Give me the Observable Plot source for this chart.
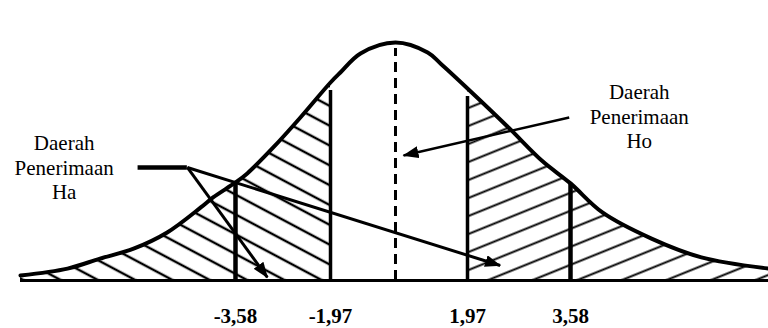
<!DOCTYPE html>
<html>
<head>
<meta charset="utf-8">
<script src="https://cdn.jsdelivr.net/npm/d3@7"></script>
<script src="https://cdn.jsdelivr.net/npm/@observablehq/plot@0.6"></script>
<style>
  html, body { margin: 0; padding: 0; background: #fff; }
  #chart { width: 768px; height: 328px; overflow: hidden; }
  #chart svg text { font-family: "Liberation Serif", "Times New Roman", serif; }
</style>
</head>
<body>
<div id="chart"></div>
<script>
// Bell curve (z value, relative height)
const curveX = [-5.5, -5.08, -4.79, -4.49, -4.19, -3.89, -3.78, -3.58, -3.38, -2.94, -2.48, -1.97, -1.67, -1.06, 0, 0.88, 1.23, 1.97, 2.61, 3.13, 3.58, 3.97, 4.57, 5.18, 6.0];
const curveY = [0.021, 0.050, 0.092, 0.134, 0.202, 0.307, 0.349, 0.412, 0.450, 0.559, 0.685, 0.832, 0.874, 0.954, 1.0, 0.958, 0.912, 0.807, 0.643, 0.504, 0.408, 0.286, 0.176, 0.097, 0.050];

// Critical values and their labels
const outerTicks = [-3.58, 3.58];
const innerTicks = [-1.97, 1.97];
const ticks = [-3.58, -1.97, 1.97, 3.58];
const tickLabels = ["-3,58", "-1,97", "1,97", "3,58"];

// Annotation texts and anchors
const labels = ["Daerah\nPenerimaan\nHa", "Daerah\nPenerimaan\nHo"];
const labelX = [-5.11, 4.42];
const labelY = [0.478, 0.692];

// Leader line for the Ha label
const leaderX = [-4.45, -4.01];
const leaderY = [0.475];

// Arrows
const arrowFromX = [-4.01, -4.01, 3.56];
const arrowFromY = [0.475, 0.475, 0.685];
const arrowToX = [-3.04, 2.48, 0.22];
const arrowToY = [0.013, 0.063, 0.525];
const arrowWidth = [3, 3, 2.5];

const serif = "'Liberation Serif', 'Times New Roman', serif";
const curve = curveX.map((x, i) => ({x, y: curveY[i]}));
const heightAt = (x) => curve.find((d) => d.x === x).y;

const svg = Plot.plot({
  width: 768,
  height: 328,
  marginLeft: 0,
  marginRight: 0,
  marginTop: 42,
  marginBottom: 48,
  x: {type: "linear", domain: [-5.5, -3.58, -1.97, 0, 1.97, 3.58, 6], range: [20, 235, 330, 395, 467, 570, 768], axis: null},
  y: {domain: [0, 1], axis: null},
  style: {fontFamily: serif, background: "white", color: "black", overflow: "visible"},
  marks: [
    Plot.areaY(curve.filter((d) => d.x <= -1.97), {x: "x", y: "y", fill: "url(#hatchL)", curve: "catmull-rom"}),
    Plot.areaY(curve.filter((d) => d.x >= 1.97), {x: "x", y: "y", fill: "url(#hatchR)", curve: "catmull-rom"}),
    Plot.ruleY([0], {x1: curveX[0], x2: curveX[curveX.length - 1], stroke: "black", strokeWidth: 3}),
    Plot.ruleX(outerTicks, {x: (d) => d, y1: 0, y2: (d) => heightAt(d), stroke: "black", strokeWidth: 4.5}),
    Plot.ruleX(innerTicks, {x: (d) => d, y1: 0, y2: (d) => heightAt(d), stroke: "black", strokeWidth: 3.5, insetBottom: -8}),
    Plot.ruleX([0], {x: (d) => d, y1: 0, y2: (d) => heightAt(d), stroke: "black", strokeWidth: 3, strokeDasharray: "10,6", insetBottom: -6}),
    Plot.line(curve, {x: "x", y: "y", stroke: "black", strokeWidth: 4, curve: "catmull-rom", strokeLinejoin: "round", strokeLinecap: "round"}),
    Plot.ruleY(leaderY, {y: (d) => d, x1: leaderX[0], x2: leaderX[1], stroke: "black", strokeWidth: 4.5}),
    Plot.link(arrowFromX, {
      x1: (d, i) => arrowFromX[i], y1: (d, i) => arrowFromY[i],
      x2: (d, i) => arrowToX[i], y2: (d, i) => arrowToY[i],
      stroke: "black", strokeWidth: (d, i) => arrowWidth[i]
    }),
    Plot.text(ticks, {x: (d) => d, y: 0, text: (d, i) => tickLabels[i], dy: 42, lineAnchor: "bottom", fontSize: 21, fontWeight: "bold", fontFamily: serif, fill: "black"}),
    Plot.text(labels, {x: (d, i) => labelX[i], y: (d, i) => labelY[i], text: (d) => d, fontSize: 21, lineHeight: 1.16, textAnchor: "middle", fontFamily: serif, fill: "black"})
  ]
});

const defs = d3.select(svg).insert("defs", ":first-child");
defs.html(`
  <pattern id="hatchL" patternUnits="userSpaceOnUse" width="40" height="17.5" patternTransform="rotate(28)">
    <line x1="0" y1="8.75" x2="40" y2="8.75" stroke="black" stroke-width="2.5"/>
  </pattern>
  <pattern id="hatchR" patternUnits="userSpaceOnUse" width="40" height="16.7" patternTransform="rotate(-22)">
    <line x1="0" y1="8.35" x2="40" y2="8.35" stroke="black" stroke-width="2"/>
  </pattern>
  <marker id="ah" viewBox="0 0 16 12" refX="15" refY="6" markerWidth="16" markerHeight="12" markerUnits="userSpaceOnUse" orient="auto">
    <path d="M0,0L16,6L0,12Z" fill="black"/>
  </marker>
`);
d3.select(svg).selectAll("g[aria-label=link] path").attr("marker-end", "url(#ah)");

document.getElementById("chart").appendChild(svg);
</script>
</body>
</html>
